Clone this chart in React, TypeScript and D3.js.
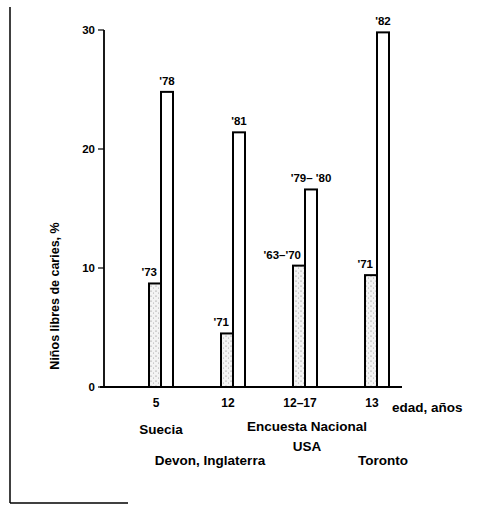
import React from "react";
import * as d3 from "d3";

const groups = ["5", "12", "12–17", "13"];
const oldYears = ["'73", "'71", "'63–'70", "'71"];
const newYears = ["'78", "'81", "'79– '80", "'82"];
const oldValues = [8.7, 4.5, 10.2, 9.4];
const newValues = [24.8, 21.4, 16.6, 29.8];
const yTicks = [0, 10, 20, 30];
const sites = [["Suecia"], ["Devon, Inglaterra"], ["Encuesta Nacional", "USA"], ["Toronto"]];

const W = 478;
const H = 505;
const font = "'Liberation Sans', Arial, sans-serif";

export default function App() {
  const x = d3.scalePoint<string>().domain(groups).range([161, 377]);
  const y = d3.scaleLinear().domain([0, 30]).range([387, 30]);
  const bw = 12;

  // layout of site names under the axis (dx from group centre, baseline)
  const siteLayout = [
    { dx: 0, y: 434 },
    { dx: -23, y: 465 },
    { dx: 2, y: 431 },
    { dx: 6, y: 465 },
  ];

  return (
    <svg width={W} height={H} style={{ position: "absolute", left: 0, top: 0, background: "#fff" }}>
      <defs>
        <pattern id="stip" width="5" height="5" patternUnits="userSpaceOnUse">
          <rect width="5" height="5" fill="#f4f4f4" />
          <circle cx="1" cy="1" r="0.6" fill="#777" />
          <circle cx="3.5" cy="3" r="0.5" fill="#999" />
        </pattern>
      </defs>

      {/* page frame */}
      <line x1={10} y1={7} x2={10} y2={503} stroke="#000" strokeWidth={1.5} />
      <line x1={10} y1={503} x2={128} y2={503} stroke="#000" strokeWidth={1.5} />

      {/* y axis */}
      <line x1={104} y1={y(30)} x2={104} y2={y(0)} stroke="#000" strokeWidth={1.8} />
      {yTicks.map((t) => (
        <g key={t}>
          <line x1={98} x2={104} y1={y(t)} y2={y(t)} stroke="#000" strokeWidth={1.2} />
          <text x={95} y={y(t)} dy="0.35em" textAnchor="end" fontFamily={font} fontWeight="bold" fontSize={11.5}>
            {t}
          </text>
        </g>
      ))}
      <text
        transform={`translate(59,${296}) rotate(-90)`}
        textAnchor="middle"
        fontFamily={font}
        fontWeight="bold"
        fontSize={12.5}
      >
        Niños libres de caries, %
      </text>

      {/* bars */}
      {groups.map((g, i) => {
        const cx = x(g) as number;
        return (
          <g key={g}>
            <rect
              x={cx - bw}
              y={y(oldValues[i])}
              width={bw}
              height={y(0) - y(oldValues[i])}
              fill="url(#stip)"
              stroke="#000"
              strokeWidth={2}
            />
            <rect
              x={cx}
              y={y(newValues[i])}
              width={bw}
              height={y(0) - y(newValues[i])}
              fill="#fff"
              stroke="#000"
              strokeWidth={2}
            />
            <text
              x={cx - 4}
              y={y(oldValues[i]) - 7}
              textAnchor="end"
              fontFamily={font}
              fontWeight="bold"
              fontSize={11.5}
            >
              {oldYears[i]}
            </text>
            <text
              x={cx + bw / 2}
              y={y(newValues[i]) - 7}
              textAnchor="middle"
              fontFamily={font}
              fontWeight="bold"
              fontSize={11.5}
            >
              {newYears[i]}
            </text>
            <text x={cx - 5} y={407} textAnchor="middle" fontFamily={font} fontWeight="bold" fontSize={12}>
              {g}
            </text>
            {sites[i].map((s, j) => (
              <text
                key={s}
                x={cx + siteLayout[i].dx}
                y={siteLayout[i].y + j * 20}
                textAnchor="middle"
                fontFamily={font}
                fontWeight="bold"
                fontSize={13.5}
              >
                {s}
              </text>
            ))}
          </g>
        );
      })}

      {/* x axis baseline */}
      <line x1={100} x2={402} y1={y(0)} y2={y(0)} stroke="#000" strokeWidth={2} />
      <text x={392} y={412} fontFamily={font} fontWeight="bold" fontSize={13.5}>
        edad, años
      </text>
    </svg>
  );
}
